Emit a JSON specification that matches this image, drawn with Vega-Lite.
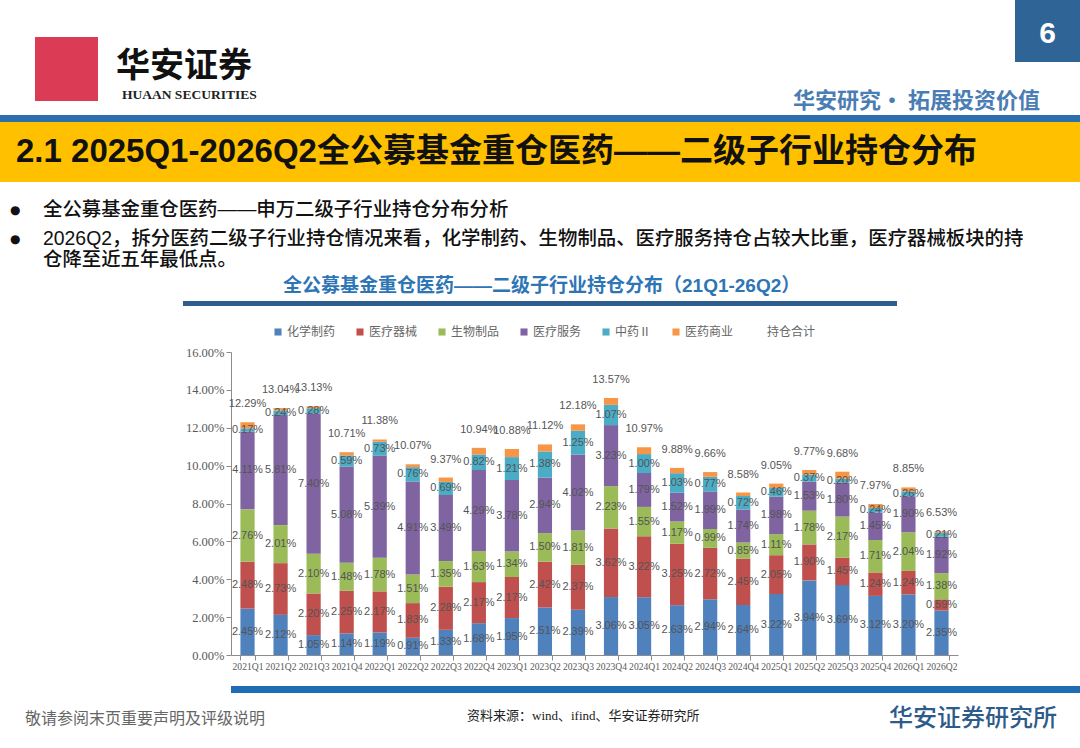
{
  "$schema": "https://vega.github.io/schema/vega-lite/v6.json",
  "padding": 0,
  "background": "white",
  "spacing": 0,
  "bounds": "flush",
  "align": "each",
  "columns": 7,
  "config": {
    "view": {"stroke": null},
    "axisX": {"labelFont": "Liberation Serif", "labelFontSize": 9.6, "labelColor": "#595959", "domainColor": "#8c8c8c", "tickColor": "#8c8c8c", "tickSize": 5, "labelPadding": 1, "labelAngle": 0, "tickBand": "extent", "grid": false, "title": null, "labelOverlap": false},
    "axisY": {"labelFont": "Liberation Serif", "labelFontSize": 12.5, "labelColor": "#595959", "domainColor": "#8c8c8c", "tickColor": "#8c8c8c", "tickSize": 5, "labelPadding": 2, "grid": false, "title": null, "labelOverlap": false}
  },
  "datasets": {
    "cats": [
      {"cat": "化学制药", "k": 1}, {"cat": "医疗器械", "k": 2}, {"cat": "生物制品", "k": 3},
      {"cat": "医疗服务", "k": 4}, {"cat": "中药Ⅱ", "k": 5}, {"cat": "医药商业", "k": 6}
    ],
    "tot": [
      {"q": "2021Q1", "t": 0.1229}, {"q": "2021Q2", "t": 0.1304}, {"q": "2021Q3", "t": 0.1313}, {"q": "2021Q4", "t": 0.1071},
      {"q": "2022Q1", "t": 0.1138}, {"q": "2022Q2", "t": 0.1007}, {"q": "2022Q3", "t": 0.0937}, {"q": "2022Q4", "t": 0.1094},
      {"q": "2023Q1", "t": 0.1088}, {"q": "2023Q2", "t": 0.1112}, {"q": "2023Q3", "t": 0.1218}, {"q": "2023Q4", "t": 0.1357},
      {"q": "2024Q1", "t": 0.1097}, {"q": "2024Q2", "t": 0.0988}, {"q": "2024Q3", "t": 0.0966}, {"q": "2024Q4", "t": 0.0858},
      {"q": "2025Q1", "t": 0.0905}, {"q": "2025Q2", "t": 0.0977}, {"q": "2025Q3", "t": 0.0968}, {"q": "2025Q4", "t": 0.0797},
      {"q": "2026Q1", "t": 0.0885}, {"q": "2026Q2", "t": 0.0653}
    ],
    "seg": [
      {"q": "2021Q1", "cat": "化学制药", "v": 0.0245}, {"q": "2021Q1", "cat": "医疗器械", "v": 0.0248}, {"q": "2021Q1", "cat": "生物制品", "v": 0.0276}, {"q": "2021Q1", "cat": "医疗服务", "v": 0.0411}, {"q": "2021Q1", "cat": "中药Ⅱ", "v": 0.0017}, {"q": "2021Q1", "cat": "医药商业", "v": 0.0032},
      {"q": "2021Q2", "cat": "化学制药", "v": 0.0212}, {"q": "2021Q2", "cat": "医疗器械", "v": 0.0273}, {"q": "2021Q2", "cat": "生物制品", "v": 0.0201}, {"q": "2021Q2", "cat": "医疗服务", "v": 0.0581}, {"q": "2021Q2", "cat": "中药Ⅱ", "v": 0.0024}, {"q": "2021Q2", "cat": "医药商业", "v": 0.0013},
      {"q": "2021Q3", "cat": "化学制药", "v": 0.0105}, {"q": "2021Q3", "cat": "医疗器械", "v": 0.0220}, {"q": "2021Q3", "cat": "生物制品", "v": 0.0210}, {"q": "2021Q3", "cat": "医疗服务", "v": 0.0740}, {"q": "2021Q3", "cat": "中药Ⅱ", "v": 0.0028}, {"q": "2021Q3", "cat": "医药商业", "v": 0.0010},
      {"q": "2021Q4", "cat": "化学制药", "v": 0.0114}, {"q": "2021Q4", "cat": "医疗器械", "v": 0.0225}, {"q": "2021Q4", "cat": "生物制品", "v": 0.0148}, {"q": "2021Q4", "cat": "医疗服务", "v": 0.0508}, {"q": "2021Q4", "cat": "中药Ⅱ", "v": 0.0059}, {"q": "2021Q4", "cat": "医药商业", "v": 0.0017},
      {"q": "2022Q1", "cat": "化学制药", "v": 0.0119}, {"q": "2022Q1", "cat": "医疗器械", "v": 0.0217}, {"q": "2022Q1", "cat": "生物制品", "v": 0.0178}, {"q": "2022Q1", "cat": "医疗服务", "v": 0.0539}, {"q": "2022Q1", "cat": "中药Ⅱ", "v": 0.0073}, {"q": "2022Q1", "cat": "医药商业", "v": 0.0012},
      {"q": "2022Q2", "cat": "化学制药", "v": 0.0091}, {"q": "2022Q2", "cat": "医疗器械", "v": 0.0183}, {"q": "2022Q2", "cat": "生物制品", "v": 0.0151}, {"q": "2022Q2", "cat": "医疗服务", "v": 0.0491}, {"q": "2022Q2", "cat": "中药Ⅱ", "v": 0.0076}, {"q": "2022Q2", "cat": "医药商业", "v": 0.0015},
      {"q": "2022Q3", "cat": "化学制药", "v": 0.0133}, {"q": "2022Q3", "cat": "医疗器械", "v": 0.0228}, {"q": "2022Q3", "cat": "生物制品", "v": 0.0135}, {"q": "2022Q3", "cat": "医疗服务", "v": 0.0349}, {"q": "2022Q3", "cat": "中药Ⅱ", "v": 0.0069}, {"q": "2022Q3", "cat": "医药商业", "v": 0.0023},
      {"q": "2022Q4", "cat": "化学制药", "v": 0.0168}, {"q": "2022Q4", "cat": "医疗器械", "v": 0.0217}, {"q": "2022Q4", "cat": "生物制品", "v": 0.0163}, {"q": "2022Q4", "cat": "医疗服务", "v": 0.0429}, {"q": "2022Q4", "cat": "中药Ⅱ", "v": 0.0082}, {"q": "2022Q4", "cat": "医药商业", "v": 0.0035},
      {"q": "2023Q1", "cat": "化学制药", "v": 0.0195}, {"q": "2023Q1", "cat": "医疗器械", "v": 0.0217}, {"q": "2023Q1", "cat": "生物制品", "v": 0.0134}, {"q": "2023Q1", "cat": "医疗服务", "v": 0.0378}, {"q": "2023Q1", "cat": "中药Ⅱ", "v": 0.0121}, {"q": "2023Q1", "cat": "医药商业", "v": 0.0043},
      {"q": "2023Q2", "cat": "化学制药", "v": 0.0251}, {"q": "2023Q2", "cat": "医疗器械", "v": 0.0242}, {"q": "2023Q2", "cat": "生物制品", "v": 0.0150}, {"q": "2023Q2", "cat": "医疗服务", "v": 0.0294}, {"q": "2023Q2", "cat": "中药Ⅱ", "v": 0.0138}, {"q": "2023Q2", "cat": "医药商业", "v": 0.0037},
      {"q": "2023Q3", "cat": "化学制药", "v": 0.0239}, {"q": "2023Q3", "cat": "医疗器械", "v": 0.0237}, {"q": "2023Q3", "cat": "生物制品", "v": 0.0181}, {"q": "2023Q3", "cat": "医疗服务", "v": 0.0402}, {"q": "2023Q3", "cat": "中药Ⅱ", "v": 0.0125}, {"q": "2023Q3", "cat": "医药商业", "v": 0.0034},
      {"q": "2023Q4", "cat": "化学制药", "v": 0.0306}, {"q": "2023Q4", "cat": "医疗器械", "v": 0.0362}, {"q": "2023Q4", "cat": "生物制品", "v": 0.0223}, {"q": "2023Q4", "cat": "医疗服务", "v": 0.0323}, {"q": "2023Q4", "cat": "中药Ⅱ", "v": 0.0107}, {"q": "2023Q4", "cat": "医药商业", "v": 0.0036},
      {"q": "2024Q1", "cat": "化学制药", "v": 0.0305}, {"q": "2024Q1", "cat": "医疗器械", "v": 0.0322}, {"q": "2024Q1", "cat": "生物制品", "v": 0.0155}, {"q": "2024Q1", "cat": "医疗服务", "v": 0.0179}, {"q": "2024Q1", "cat": "中药Ⅱ", "v": 0.0100}, {"q": "2024Q1", "cat": "医药商业", "v": 0.0036},
      {"q": "2024Q2", "cat": "化学制药", "v": 0.0263}, {"q": "2024Q2", "cat": "医疗器械", "v": 0.0325}, {"q": "2024Q2", "cat": "生物制品", "v": 0.0117}, {"q": "2024Q2", "cat": "医疗服务", "v": 0.0152}, {"q": "2024Q2", "cat": "中药Ⅱ", "v": 0.0103}, {"q": "2024Q2", "cat": "医药商业", "v": 0.0028},
      {"q": "2024Q3", "cat": "化学制药", "v": 0.0294}, {"q": "2024Q3", "cat": "医疗器械", "v": 0.0272}, {"q": "2024Q3", "cat": "生物制品", "v": 0.0099}, {"q": "2024Q3", "cat": "医疗服务", "v": 0.0199}, {"q": "2024Q3", "cat": "中药Ⅱ", "v": 0.0077}, {"q": "2024Q3", "cat": "医药商业", "v": 0.0025},
      {"q": "2024Q4", "cat": "化学制药", "v": 0.0264}, {"q": "2024Q4", "cat": "医疗器械", "v": 0.0245}, {"q": "2024Q4", "cat": "生物制品", "v": 0.0085}, {"q": "2024Q4", "cat": "医疗服务", "v": 0.0174}, {"q": "2024Q4", "cat": "中药Ⅱ", "v": 0.0072}, {"q": "2024Q4", "cat": "医药商业", "v": 0.0018},
      {"q": "2025Q1", "cat": "化学制药", "v": 0.0322}, {"q": "2025Q1", "cat": "医疗器械", "v": 0.0205}, {"q": "2025Q1", "cat": "生物制品", "v": 0.0111}, {"q": "2025Q1", "cat": "医疗服务", "v": 0.0198}, {"q": "2025Q1", "cat": "中药Ⅱ", "v": 0.0046}, {"q": "2025Q1", "cat": "医药商业", "v": 0.0023},
      {"q": "2025Q2", "cat": "化学制药", "v": 0.0394}, {"q": "2025Q2", "cat": "医疗器械", "v": 0.0190}, {"q": "2025Q2", "cat": "生物制品", "v": 0.0178}, {"q": "2025Q2", "cat": "医疗服务", "v": 0.0153}, {"q": "2025Q2", "cat": "中药Ⅱ", "v": 0.0037}, {"q": "2025Q2", "cat": "医药商业", "v": 0.0025},
      {"q": "2025Q3", "cat": "化学制药", "v": 0.0369}, {"q": "2025Q3", "cat": "医疗器械", "v": 0.0145}, {"q": "2025Q3", "cat": "生物制品", "v": 0.0217}, {"q": "2025Q3", "cat": "医疗服务", "v": 0.0180}, {"q": "2025Q3", "cat": "中药Ⅱ", "v": 0.0020}, {"q": "2025Q3", "cat": "医药商业", "v": 0.0037},
      {"q": "2025Q4", "cat": "化学制药", "v": 0.0312}, {"q": "2025Q4", "cat": "医疗器械", "v": 0.0124}, {"q": "2025Q4", "cat": "生物制品", "v": 0.0171}, {"q": "2025Q4", "cat": "医疗服务", "v": 0.0145}, {"q": "2025Q4", "cat": "中药Ⅱ", "v": 0.0024}, {"q": "2025Q4", "cat": "医药商业", "v": 0.0021},
      {"q": "2026Q1", "cat": "化学制药", "v": 0.0320}, {"q": "2026Q1", "cat": "医疗器械", "v": 0.0124}, {"q": "2026Q1", "cat": "生物制品", "v": 0.0204}, {"q": "2026Q1", "cat": "医疗服务", "v": 0.0190}, {"q": "2026Q1", "cat": "中药Ⅱ", "v": 0.0026}, {"q": "2026Q1", "cat": "医药商业", "v": 0.0021},
      {"q": "2026Q2", "cat": "化学制药", "v": 0.0235}, {"q": "2026Q2", "cat": "医疗器械", "v": 0.0059}, {"q": "2026Q2", "cat": "生物制品", "v": 0.0138}, {"q": "2026Q2", "cat": "医疗服务", "v": 0.0192}, {"q": "2026Q2", "cat": "中药Ⅱ", "v": 0.0021}, {"q": "2026Q2", "cat": "医药商业", "v": 0.0008}
    ]
  },
  "concat": [
    {"width": 35, "height": 37, "data": {"values": []}, "mark": "rect", "encoding": {}},
    {"width": 63, "height": 37, "data": {"values": []}, "mark": "rect", "encoding": {}},
    {"width": 85, "height": 37, "data": {"values": []}, "mark": "rect", "encoding": {}},
    {"width": 48, "height": 37, "data": {"values": []}, "mark": "rect", "encoding": {}},
    {"width": 727, "height": 37, "data": {"values": []}, "mark": "rect", "encoding": {}},
    {"width": 57, "height": 37, "data": {"values": []}, "mark": "rect", "encoding": {}},
    {"width": 65, "height": 37, "view": {"fill": "#2F6497"}, "data": {"values": []}, "mark": "rect", "encoding": {}},

    {"width": 35, "height": 25, "data": {"values": []}, "mark": "rect", "encoding": {}},
    {"width": 63, "height": 25, "view": {"fill": "#DB3B55"}, "data": {"values": []}, "mark": "rect", "encoding": {}},
    {"width": 85, "height": 25, "data": {"values": []}, "mark": "rect", "encoding": {}},
    {"width": 48, "height": 25, "data": {"values": []}, "mark": "rect", "encoding": {}},
    {"width": 727, "height": 25, "data": {"values": []}, "mark": "rect", "encoding": {}},
    {"width": 57, "height": 25, "data": {"values": []}, "mark": "rect", "encoding": {}},
    {"width": 65, "height": 25, "view": {"fill": "#2F6497"}, "data": {"values": []}, "mark": "rect", "encoding": {},
     "title": {"text": "6", "anchor": "middle", "frame": "group", "orient": "top", "offset": -12,
               "font": "Liberation Sans", "fontSize": 30, "fontWeight": "bold", "color": "#ffffff"}},

    {"width": 35, "height": 39, "data": {"values": []}, "mark": "rect", "encoding": {}},
    {"width": 63, "height": 39, "view": {"fill": "#DB3B55"}, "data": {"values": []}, "mark": "rect", "encoding": {}},
    {"width": 85, "height": 39, "data": {"values": []}, "mark": "rect", "encoding": {},
     "title": {"text": "华安证券", "anchor": "start", "frame": "group", "orient": "top", "offset": -22, "dx": 18,
               "font": "Noto Sans CJK SC", "fontSize": 34, "fontWeight": "bold", "color": "#111111"}},
    {"width": 48, "height": 39, "data": {"values": []}, "mark": "rect", "encoding": {},
     "title": {"text": "HUAAN SECURITIES", "anchor": "start", "frame": "group", "orient": "top", "offset": -39, "dx": -61,
               "font": "Liberation Serif", "fontSize": 13.5, "color": "#222222"}},
    {"width": 727, "height": 39, "data": {"values": []}, "mark": "rect", "encoding": {}},
    {"width": 57, "height": 39, "data": {"values": []}, "mark": "rect", "encoding": {}},
    {"width": 65, "height": 39, "data": {"values": []}, "mark": "rect", "encoding": {},
     "title": {"text": "华安研究• 拓展投资价值", "anchor": "end", "frame": "group", "orient": "top", "offset": -51, "dx": -40,
               "font": "Noto Sans CJK SC", "fontSize": 22, "fontWeight": "bold", "color": "#4A7DB3"}},

    {"width": 35, "height": 14, "data": {"values": []}, "mark": "rect", "encoding": {}},
    {"width": 63, "height": 14, "data": {"values": []}, "mark": "rect", "encoding": {}},
    {"width": 85, "height": 14, "data": {"values": []}, "mark": "rect", "encoding": {}},
    {"width": 48, "height": 14, "data": {"values": []}, "mark": "rect", "encoding": {}},
    {"width": 727, "height": 14, "data": {"values": []}, "mark": "rect", "encoding": {}},
    {"width": 57, "height": 14, "data": {"values": []}, "mark": "rect", "encoding": {}},
    {"width": 65, "height": 14, "data": {"values": []}, "mark": "rect", "encoding": {}},

    {"width": 35, "height": 7, "view": {"fill": "#2C6FAD"}, "data": {"values": []}, "mark": "rect", "encoding": {}},
    {"width": 63, "height": 7, "view": {"fill": "#2C6FAD"}, "data": {"values": []}, "mark": "rect", "encoding": {}},
    {"width": 85, "height": 7, "view": {"fill": "#2C6FAD"}, "data": {"values": []}, "mark": "rect", "encoding": {}},
    {"width": 48, "height": 7, "view": {"fill": "#2C6FAD"}, "data": {"values": []}, "mark": "rect", "encoding": {}},
    {"width": 727, "height": 7, "view": {"fill": "#2C6FAD"}, "data": {"values": []}, "mark": "rect", "encoding": {}},
    {"width": 57, "height": 7, "view": {"fill": "#2C6FAD"}, "data": {"values": []}, "mark": "rect", "encoding": {}},
    {"width": 65, "height": 7, "view": {"fill": "#2C6FAD"}, "data": {"values": []}, "mark": "rect", "encoding": {}},

    {"width": 35, "height": 60, "view": {"fill": "#FFC000"}, "data": {"values": []}, "mark": "rect", "encoding": {}},
    {"width": 63, "height": 60, "view": {"fill": "#FFC000"}, "data": {"values": []}, "mark": "rect", "encoding": {}},
    {"width": 85, "height": 60, "view": {"fill": "#FFC000"}, "data": {"values": []}, "mark": "rect", "encoding": {}},
    {"width": 48, "height": 60, "view": {"fill": "#FFC000"}, "data": {"values": []}, "mark": "rect", "encoding": {}},
    {"width": 727, "height": 60, "view": {"fill": "#FFC000"}, "data": {"values": []}, "mark": "rect", "encoding": {}},
    {"width": 57, "height": 60, "view": {"fill": "#FFC000"}, "data": {"values": []}, "mark": "rect", "encoding": {}},
    {"width": 65, "height": 60, "view": {"fill": "#FFC000"}, "data": {"values": []}, "mark": "rect", "encoding": {},
     "title": {"text": "2.1 2025Q1-2026Q2全公募基金重仓医药——二级子行业持仓分布", "anchor": "start", "frame": "group", "orient": "top", "offset": -47, "dx": -999,
               "font": "Liberation Sans, Noto Sans CJK SC", "fontSize": 33, "fontWeight": "bold", "color": "#111111"}},

    {"width": 35, "height": 40, "data": {"values": []}, "mark": "rect", "encoding": {},
     "title": {"text": "●", "anchor": "start", "frame": "group", "orient": "top", "offset": -35, "dx": 10,
               "font": "DejaVu Sans", "fontSize": 12, "color": "#111111"}},
    {"width": 63, "height": 40, "data": {"values": []}, "mark": "rect", "encoding": {},
     "title": {"text": "全公募基金重仓医药——申万二级子行业持仓分布分析", "anchor": "start", "frame": "group", "orient": "top", "offset": -38, "dx": 8,
               "font": "Liberation Sans, Noto Sans CJK SC", "fontSize": 19.4, "fontWeight": 500, "color": "#111111"}},
    {"width": 85, "height": 40, "data": {"values": []}, "mark": "rect", "encoding": {}},
    {"width": 48, "height": 40, "data": {"values": []}, "mark": "rect", "encoding": {}},
    {"width": 727, "height": 40, "data": {"values": []}, "mark": "rect", "encoding": {}},
    {"width": 57, "height": 40, "data": {"values": []}, "mark": "rect", "encoding": {}},
    {"width": 65, "height": 40, "data": {"values": []}, "mark": "rect", "encoding": {}},

    {"width": 35, "height": 48, "data": {"values": []}, "mark": "rect", "encoding": {},
     "title": {"text": "●", "anchor": "start", "frame": "group", "orient": "top", "offset": -24, "dx": 10,
               "font": "DejaVu Sans", "fontSize": 12, "color": "#111111"}},
    {"width": 63, "height": 48, "data": {"values": []}, "mark": "rect", "encoding": {},
     "title": {"text": ["2026Q2，拆分医药二级子行业持仓情况来看，化学制药、生物制品、医疗服务持仓占较大比重，医疗器械板块的持", "仓降至近五年最低点。"],
               "anchor": "start", "frame": "group", "orient": "top", "offset": -48, "dx": 8, "lineHeight": 21,
               "font": "Liberation Sans, Noto Sans CJK SC", "fontSize": 19.4, "fontWeight": 500, "color": "#111111"}},
    {"width": 85, "height": 48, "data": {"values": []}, "mark": "rect", "encoding": {}},
    {"width": 48, "height": 48, "data": {"values": []}, "mark": "rect", "encoding": {}},
    {"width": 727, "height": 48, "data": {"values": []}, "mark": "rect", "encoding": {}},
    {"width": 57, "height": 48, "data": {"values": []}, "mark": "rect", "encoding": {}},
    {"width": 65, "height": 48, "data": {"values": []}, "mark": "rect", "encoding": {}},

    {"width": 35, "height": 31, "data": {"values": []}, "mark": "rect", "encoding": {},
     "title": {"text": "全公募基金重仓医药——二级子行业持仓分布（21Q1-26Q2）", "anchor": "start", "frame": "group", "orient": "top", "offset": -26, "dx": 283,
               "font": "Liberation Sans, Noto Sans CJK SC", "fontSize": 19, "fontWeight": "bold", "color": "#2E75B6"}},
    {"width": 63, "height": 31, "data": {"values": []}, "mark": "rect", "encoding": {}},
    {"width": 85, "height": 31, "data": {"values": []}, "mark": "rect", "encoding": {}},
    {"width": 48, "height": 31, "data": {"values": []}, "mark": "rect", "encoding": {}},
    {"width": 727, "height": 31, "data": {"values": []}, "mark": "rect", "encoding": {}},
    {"width": 57, "height": 31, "data": {"values": []}, "mark": "rect", "encoding": {}},
    {"width": 65, "height": 31, "data": {"values": []}, "mark": "rect", "encoding": {}},

    {"width": 35, "height": 5, "data": {"values": []}, "mark": "rect", "encoding": {}},
    {"width": 63, "height": 5, "data": {"values": []}, "mark": "rect", "encoding": {}},
    {"width": 85, "height": 5, "data": {"values": []}, "mark": "rect", "encoding": {}},
    {"width": 48, "height": 5, "view": {"fill": "#2F5E8E"}, "data": {"values": []}, "mark": "rect", "encoding": {}},
    {"width": 666, "height": 5, "view": {"fill": "#2F5E8E"}, "data": {"values": []}, "mark": "rect", "encoding": {}},
    {"width": 57, "height": 5, "data": {"values": []}, "mark": "rect", "encoding": {}},
    {"width": 65, "height": 5, "data": {"values": []}, "mark": "rect", "encoding": {}},

    {"width": 35, "height": 46, "data": {"values": []}, "mark": "rect", "encoding": {}},
    {"width": 63, "height": 46, "data": {"values": []}, "mark": "rect", "encoding": {}},
    {"width": 85, "height": 46, "data": {"values": []}, "mark": "rect", "encoding": {}},
    {"width": 48, "height": 46, "data": {"values": []}, "mark": "rect", "encoding": {}},
    {"width": 727, "height": 46, "data": {"values": []}, "mark": "rect", "encoding": {}},
    {"width": 57, "height": 46, "data": {"values": []}, "mark": "rect", "encoding": {}},
    {"width": 65, "height": 46, "data": {"values": []}, "mark": "rect", "encoding": {}},

    {"width": 35, "height": 303, "data": {"values": []}, "mark": "rect", "encoding": {}},
    {"width": 63, "height": 303, "data": {"values": []}, "mark": "rect", "encoding": {}},
    {"width": 85, "height": 303, "data": {"values": []}, "mark": "rect", "encoding": {}},
    {"width": 48, "height": 303, "data": {"values": []}, "mark": "rect", "encoding": {}},
    {
      "width": 727, "height": 303,
      "layer": [
        {
          "data": {"name": "seg"},
          "transform": [{"lookup": "cat", "from": {"data": {"name": "cats"}, "key": "cat", "fields": ["k"]}}],
          "layer": [
            {
              "mark": {"type": "bar"},
              "encoding": {
                "x": {"field": "q", "type": "nominal", "title": null, "scale": {"paddingInner": 0.57, "paddingOuter": 0.285}},
                "y": {"field": "v", "type": "quantitative", "stack": "zero", "title": null,
                      "scale": {"domain": [0, 0.16], "nice": false},
                      "axis": {"values": [0, 0.02, 0.04, 0.06, 0.08, 0.1, 0.12, 0.14, 0.16], "format": ".2%", "labelOverlap": false}},
                "color": {"field": "cat", "type": "nominal",
                          "scale": {"domain": ["化学制药", "医疗器械", "生物制品", "医疗服务", "中药Ⅱ", "医药商业", "持仓合计"],
                                    "range": ["#4F81BD", "#C0504D", "#9BBB59", "#8064A2", "#4BACC6", "#F79646", "rgba(0,0,0,0)"]},
                          "legend": {"orient": "none", "legendX": 272, "legendY": 326, "direction": "horizontal", "columns": 7, "title": null,
                                     "symbolType": "square", "symbolSize": 50, "symbolStrokeWidth": 0, "labelFont": "Noto Sans CJK SC",
                                     "labelFontSize": 12, "labelColor": "#666666", "columnPadding": 18, "labelOffset": 3}},
                "order": {"field": "k", "type": "quantitative"}
              }
            },
            {
              "transform": [{"filter": "datum.cat !== '医药商业'"}],
              "mark": {"type": "text", "font": "Liberation Sans", "fontSize": 11, "color": "#555555", "baseline": "middle"},
              "encoding": {
                "x": {"field": "q", "type": "nominal", "title": null},
                "y": {"field": "v", "type": "quantitative", "stack": "zero", "bandPosition": 0.5, "title": null,
                      "axis": {"values": [0, 0.02, 0.04, 0.06, 0.08, 0.1, 0.12, 0.14, 0.16], "format": ".2%", "labelOverlap": false}},
                "detail": {"field": "cat"},
                "order": {"field": "k", "type": "quantitative"},
                "text": {"field": "v", "type": "quantitative", "format": ".2%"}
              }
            }
          ]
        },
        {
          "data": {"name": "tot"},
          "mark": {"type": "text", "font": "Liberation Sans", "fontSize": 11, "color": "#555555", "baseline": "middle", "dy": -18},
          "encoding": {
            "x": {"field": "q", "type": "nominal", "title": null},
            "y": {"field": "t", "type": "quantitative", "title": null,
                  "axis": {"values": [0, 0.02, 0.04, 0.06, 0.08, 0.1, 0.12, 0.14, 0.16], "format": ".2%", "labelOverlap": false}},
            "text": {"field": "t", "type": "quantitative", "format": ".2%"}
          }
        }
      ]
    },
    {"width": 57, "height": 303, "data": {"values": []}, "mark": "rect", "encoding": {}},
    {"width": 65, "height": 303, "data": {"values": []}, "mark": "rect", "encoding": {}},

    {"width": 35, "height": 31, "data": {"values": []}, "mark": "rect", "encoding": {}},
    {"width": 63, "height": 31, "data": {"values": []}, "mark": "rect", "encoding": {}},
    {"width": 85, "height": 31, "data": {"values": []}, "mark": "rect", "encoding": {}},
    {"width": 48, "height": 31, "data": {"values": []}, "mark": "rect", "encoding": {}},
    {"width": 727, "height": 31, "data": {"values": []}, "mark": "rect", "encoding": {}},
    {"width": 57, "height": 31, "data": {"values": []}, "mark": "rect", "encoding": {}},
    {"width": 65, "height": 31, "data": {"values": []}, "mark": "rect", "encoding": {}},

    {"width": 35, "height": 7, "data": {"values": []}, "mark": "rect", "encoding": {}},
    {"width": 63, "height": 7, "data": {"values": []}, "mark": "rect", "encoding": {}},
    {"width": 85, "height": 7, "data": {"values": []}, "mark": "rect", "encoding": {}},
    {"width": 48, "height": 7, "data": {"values": []}, "mark": "rect", "encoding": {}},
    {"width": 727, "height": 7, "view": {"fill": "#1F6EB4"}, "data": {"values": []}, "mark": "rect", "encoding": {}},
    {"width": 57, "height": 7, "view": {"fill": "#1F6EB4"}, "data": {"values": []}, "mark": "rect", "encoding": {}},
    {"width": 65, "height": 7, "view": {"fill": "#1F6EB4"}, "data": {"values": []}, "mark": "rect", "encoding": {}},

    {"width": 35, "height": 55, "data": {"values": []}, "mark": "rect", "encoding": {},
     "title": {"text": "敬请参阅末页重要声明及评级说明", "anchor": "start", "frame": "group", "orient": "top", "offset": -34, "dx": 25,
               "font": "Noto Sans CJK SC", "fontSize": 16, "fontWeight": "normal", "color": "#666666"}},
    {"width": 63, "height": 55, "data": {"values": []}, "mark": "rect", "encoding": {}},
    {"width": 85, "height": 55, "data": {"values": []}, "mark": "rect", "encoding": {}},
    {"width": 48, "height": 55, "data": {"values": []}, "mark": "rect", "encoding": {}},
    {"width": 727, "height": 55, "data": {"values": []}, "mark": "rect", "encoding": {},
     "title": {"text": "资料来源：wind、ifind、华安证券研究所", "anchor": "start", "frame": "group", "orient": "top", "offset": -30, "dx": 236,
               "font": "Liberation Serif, Noto Sans CJK SC", "fontSize": 13, "fontWeight": "normal", "color": "#222222"}},
    {"width": 57, "height": 55, "data": {"values": []}, "mark": "rect", "encoding": {}},
    {"width": 65, "height": 55, "data": {"values": []}, "mark": "rect", "encoding": {},
     "title": {"text": "华安证券研究所", "anchor": "end", "frame": "group", "orient": "top", "offset": -38, "dx": -23,
               "font": "Noto Sans CJK SC", "fontSize": 24, "fontWeight": 500, "color": "#2D5B8A"}}
  ]
}
